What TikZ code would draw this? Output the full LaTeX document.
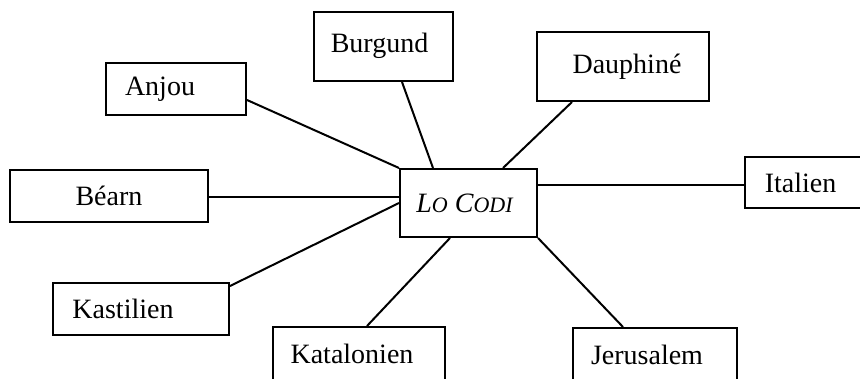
\documentclass[tikz,border=0pt]{standalone}
\usepackage{fontspec}
\setmainfont{Liberation Serif}
\usepackage{tikz}
\usetikzlibrary{positioning, calc}
\tikzstyle{land}=[draw, line width=1pt, inner sep=0pt, font=\fontsize{14}{17}\selectfont]
\tikzstyle{link}=[line width=1pt]
\newcommand{\nudge}[3]{\raisebox{#2}{\makebox[0pt]{\hspace*{#1}\hspace*{#1}#3}}}

\begin{document}
\begin{tikzpicture}[x=0.5pt, y=-0.5pt]
	\useasboundingbox (0,0) rectangle (860,379);
	\clip (0,0) rectangle (860,379);

	\node[land, minimum width=68.5pt, minimum height=34pt] (codi) at (468.5,203) {\nudge{-2pt}{-3.5pt}{\itshape L{\fontsize{11}{13}\selectfont O} C{\fontsize{11}{13}\selectfont ODI}}};

	\node[land, minimum width=69.5pt, minimum height=34.5pt] (burgund) at (383.5,46.5) {\nudge{-2pt}{4pt}{Burgund}};
	\node[land, minimum width=86pt, minimum height=34.5pt] (dauphine) at (623,66.5) {\nudge{2pt}{0pt}{Dauphiné}};
	\node[land, minimum width=70pt, minimum height=26pt] (anjou) at (176,89) {\nudge{-8pt}{0pt}{Anjou}};
	\node[land, minimum width=99pt, minimum height=26pt] (bearn) at (109,196) {Béarn};
	\node[land, minimum width=67.5pt, minimum height=25.5pt] (italien) at (812.5,182.5) {\nudge{-6pt}{0pt}{Italien}};
	\node[land, minimum width=88pt, minimum height=26pt] (kastilien) at (141,309) {\nudge{-9pt}{0pt}{Kastilien}};
	\node[land, minimum width=86pt, minimum height=27pt] (katalonien) at (359,354) {\nudge{-3.5pt}{0pt}{Katalonien}};
	\node[land, minimum width=82pt, minimum height=27pt] (jerusalem) at (655,355) {\nudge{-4pt}{0pt}{Jerusalem}};

	\draw[link] ($(anjou.east)+(0,11)$) -- (codi.north west);
	\draw[link] ($(burgund.south)+(18.5,0)$) -- ($(codi.north)+(-35.5,0)$);
	\draw[link] ($(dauphine.south)+(-51,0)$) -- ($(codi.north)+(34.5,0)$);
	\draw[link] ($(bearn.east)+(0,1)$) -- ($(codi.west)+(0,-6)$);
	\draw[link] ($(codi.east)+(0,-18)$) coordinate (ital) -- (italien.west |- ital);
	\draw[link] ($(kastilien.north east)+(0,4)$) -- (codi.west);
	\draw[link] ($(katalonien.north)+(8,0)$) -- ($(codi.south)+(-18.5,0)$);
	\draw[link] (codi.south east) -- ($(jerusalem.north)+(-32,0)$);

\end{tikzpicture}
\end{document}
